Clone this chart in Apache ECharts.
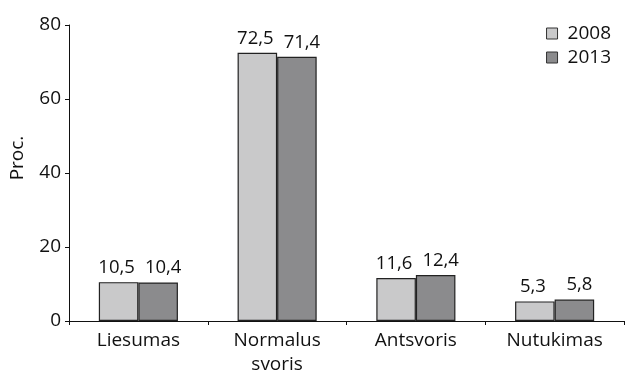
<!DOCTYPE html>
<html>
<head>
<meta charset="utf-8">
<script src="https://cdn.jsdelivr.net/npm/echarts@6/dist/echarts.min.js"></script>
<style>
  html, body { margin: 0; padding: 0; background: #fff; }
  #chart { width: 625px; height: 378px; }
</style>
</head>
<body>
<div id="chart"></div>
<script>
// Body weight groups, share of population (%)
const categories = ['Liesumas', 'Normalus\nsvoris', 'Antsvoris', 'Nutukimas'];
const years = ['2008', '2013'];
const values2008 = [10.5, 72.5, 11.6, 5.3];
const values2013 = [10.4, 71.4, 12.4, 5.8];
const yTicks = [0, 20, 40, 60, 80];

const FONT = '"Open Sans", "Noto Sans", sans-serif';
const SIZE = 19;
const fmt = v => String(v).replace('.', ',');

const chart = echarts.init(document.getElementById('chart'), null, { renderer: 'canvas' });

function barSeries(name, data, color, dx) {
  return {
    name: name,
    type: 'bar',
    data: data,
    barGap: '0%',
    barCategoryGap: '43%',
    itemStyle: { color: color, borderColor: '#222', borderWidth: 1.2 },
    label: {
      show: true,
      position: 'top',
      distance: 5,
      offset: [dx, 0],
      color: '#111',
      fontFamily: FONT,
      fontSize: 18.5,
      formatter: p => fmt(p.value)
    }
  };
}

chart.setOption({
  animation: false,
  textStyle: { fontFamily: FONT },
  grid: { left: 66, right: 1, top: 25, bottom: 57, containLabel: false },
  legend: {
    orient: 'vertical',
    right: 9,
    top: 19,
    itemWidth: 11,
    itemHeight: 11,
    itemGap: 5,
    icon: 'rect',
    textStyle: { fontFamily: FONT, fontSize: SIZE, color: '#111', padding: [0, 0, 0, 5] },
    data: years.map(y => ({ name: y, itemStyle: { borderColor: '#333', borderWidth: 1 } }))
  },
  xAxis: {
    type: 'category',
    data: categories,
    axisLine: { lineStyle: { color: '#111', width: 1 } },
    axisTick: { show: true, length: 4, lineStyle: { color: '#111' } },
    axisLabel: { color: '#111', fontFamily: FONT, fontSize: SIZE, margin: 8, lineHeight: 24 }
  },
  yAxis: {
    type: 'value',
    min: yTicks[0],
    max: yTicks[yTicks.length - 1],
    interval: 20,
    name: 'Proc.',
    nameLocation: 'middle',
    nameGap: 42,
    nameRotate: 90,
    nameTextStyle: { color: '#111', fontFamily: FONT, fontSize: SIZE, padding: [0, 0, 0, 30] },
    splitLine: { show: false },
    axisLine: { show: true, lineStyle: { color: '#111', width: 1 } },
    axisTick: { show: true, length: 4, lineStyle: { color: '#111' } },
    axisLabel: { color: '#111', fontFamily: FONT, fontSize: SIZE, margin: 8 }
  },
  series: [
    barSeries(years[0], values2008, '#c9c9ca', -2),
    barSeries(years[1], values2013, '#8b8b8d', 5)
  ]
});
</script>
</body>
</html>
